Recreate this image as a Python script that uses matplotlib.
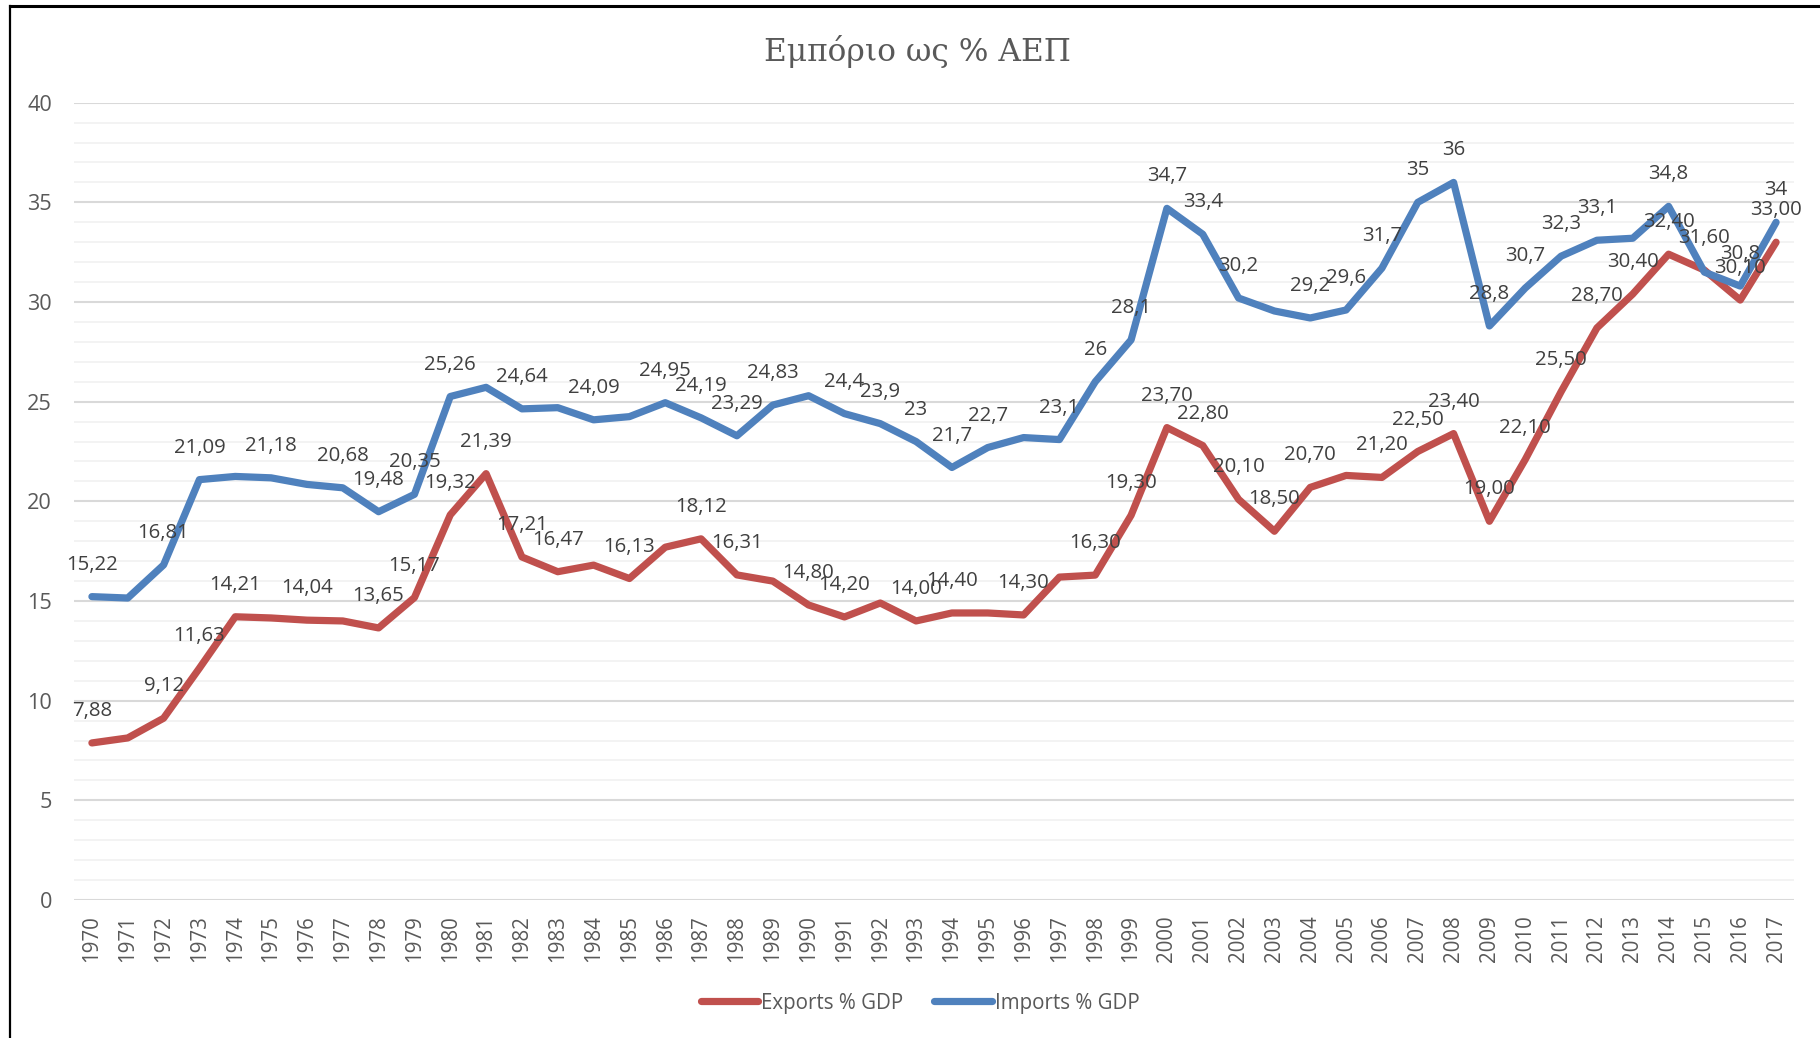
#!/usr/bin/env python3
# coding: utf-8

import matplotlib
matplotlib.use("Agg")
import matplotlib.pyplot as plt
from matplotlib.lines import Line2D
from matplotlib.ticker import MultipleLocator

#######################################################

years = list(range(1970, 2018))

exports = [7.88, 8.13, 9.12, 11.63, 14.21, 14.15, 14.04, 14.00, 13.65, 15.17,
           19.32, 21.39, 17.21, 16.47, 16.80, 16.13, 17.70, 18.12, 16.31, 16.00,
           14.80, 14.20, 14.90, 14.00, 14.40, 14.40, 14.30, 16.20, 16.30, 19.30,
           23.70, 22.80, 20.10, 18.50, 20.70, 21.30, 21.20, 22.50, 23.40, 19.00,
           22.10, 25.50, 28.70, 30.40, 32.40, 31.60, 30.10, 33.00]

imports = [15.22, 15.15, 16.81, 21.09, 21.25, 21.18, 20.85, 20.68, 19.48, 20.35,
           25.26, 25.72, 24.64, 24.70, 24.09, 24.25, 24.95, 24.19, 23.29, 24.83,
           25.30, 24.4, 23.9, 23, 21.7, 22.7, 23.2, 23.1, 26, 28.1,
           34.7, 33.4, 30.2, 29.55, 29.2, 29.6, 31.7, 35, 36, 28.8,
           30.7, 32.3, 33.1, 33.2, 34.8, 31.5, 30.8, 34]

# years that carry no data label in the original chart
exports_nolabel = [1971, 1975, 1977, 1984, 1986, 1989, 1992, 1995, 1997, 2005]
imports_nolabel = [1971, 1974, 1976, 1981, 1983, 1985, 1990, 1996, 2003, 2013, 2015]

title = "Εμπόριο ως % ΑΕΠ"
exports_name = "Exports % GDP"
imports_name = "Imports % GDP"

#######################################################

RED = "#C0504D"
BLUE = "#4F81BD"
TXT = "#595959"
LBL = "#404040"
FONT = ["Open Sans", "DejaVu Sans"]

plt.rcParams["font.family"] = FONT

W, H = 1820, 1038
fig = plt.figure(figsize=(W / 100, H / 100), dpi=100)
ax = fig.add_axes([74 / W, 1 - 900 / H, (1794 - 74) / W, (900 - 102.7) / H])

xs = list(range(len(years)))

ax.plot(xs, exports, color=RED, lw=5.2, solid_joinstyle="round",
        solid_capstyle="round", label=exports_name, zorder=3)
ax.plot(xs, imports, color=BLUE, lw=5.2, solid_joinstyle="round",
        solid_capstyle="round", label=imports_name, zorder=3)

def labelSeries(values, skip, fmt):
    for x, yr, v in zip(xs, years, values):
        if yr in skip:
            continue
        ax.annotate(fmt(v).replace(".", ","), (x, v), xytext=(0, 23),
                    textcoords="offset points", ha="center", va="center",
                    fontsize=14.7, color=LBL, zorder=4)

labelSeries(imports, imports_nolabel, lambda v: f"{v:g}")
labelSeries(exports, exports_nolabel, lambda v: f"{v:.2f}")

ax.set_xlim(-0.5, len(years) - 0.5)
ax.set_ylim(0, 40)
ax.yaxis.set_major_locator(MultipleLocator(5))
ax.yaxis.set_minor_locator(MultipleLocator(1))
ax.grid(which="major", axis="y", color="#D9D9D9", lw=1.5, zorder=0)
ax.grid(which="minor", axis="y", color="#F2F2F2", lw=1.3, zorder=0)
ax.set_axisbelow(True)

ax.set_xticks(xs)
ax.set_xticklabels([str(y) for y in years], rotation=90, fontsize=14.8, color=TXT)
ax.tick_params(axis="x", length=0, pad=11)
ax.tick_params(axis="y", which="both", length=0, pad=16, labelsize=15.6, labelcolor=TXT)
for s in ax.spines.values():
    s.set_visible(False)

fig.legend(loc="center", bbox_to_anchor=(920 / W, 1 - 1003 / H), ncol=2,
           frameon=False, fontsize=14.8, handlelength=2.8, handletextpad=0.15,
           columnspacing=1.5, labelcolor=TXT)

fig.text(917 / W, 1 - 51 / H, title, ha="center", va="center", fontsize=22.5,
         color=TXT, family=["DejaVu Serif"])

# outer frame (top and left edges visible)
fig.add_artist(Line2D([10 / W, 1], [1 - 5.5 / H, 1 - 5.5 / H], color="black", lw=2.2))
fig.add_artist(Line2D([10 / W, 10 / W], [0, 1 - 5.5 / H], color="black", lw=1.6))

fig.savefig("out.png", dpi=100)
